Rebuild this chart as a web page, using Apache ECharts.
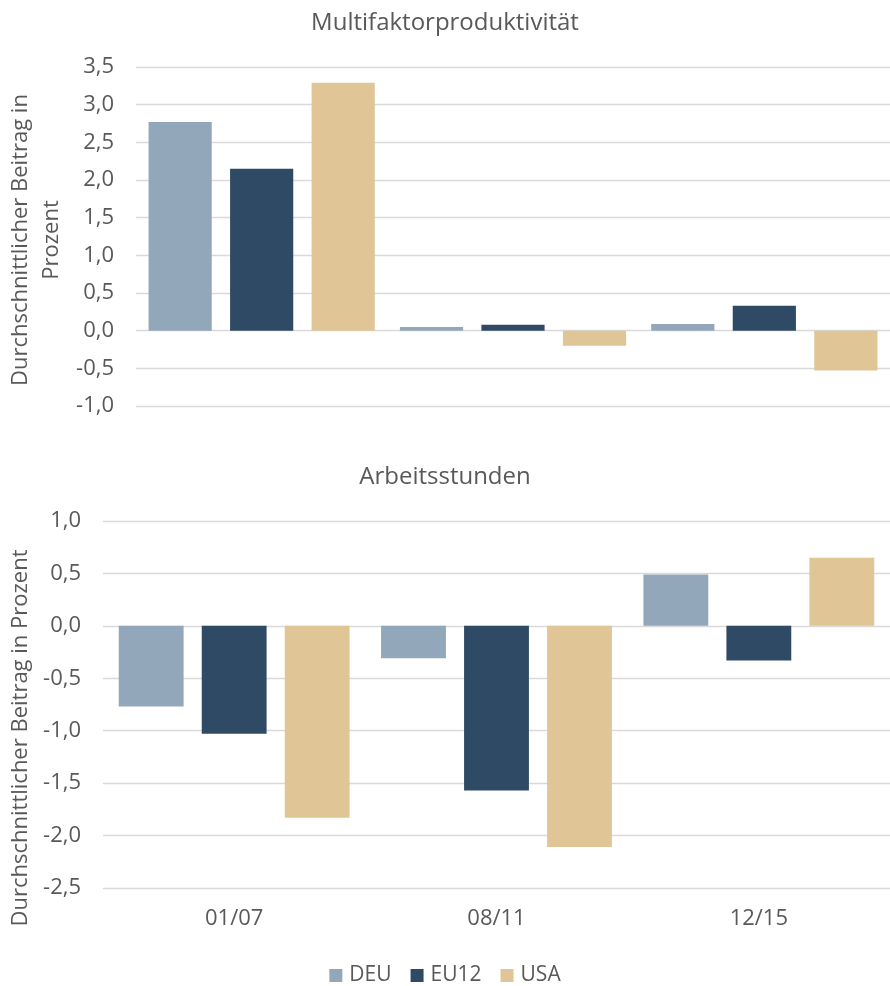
<!DOCTYPE html>
<html>
<head>
<meta charset="utf-8">
<script src="https://cdn.jsdelivr.net/npm/echarts@6/dist/echarts.min.js"></script>
<style>
  html, body { margin: 0; padding: 0; background: #ffffff; }
  #chart { width: 890px; height: 986px; }
</style>
</head>
<body>
<div id="chart"></div>
<script>
// Periods and series
const categories = ['01/07', '08/11', '12/15'];
const seriesNames = ['DEU', 'EU12', 'USA'];

// Multifaktorproduktivität (average contribution, %)
const mfpDEU  = [2.77, 0.05, 0.09];
const mfpEU12 = [2.15, 0.08, 0.33];
const mfpUSA  = [3.29, -0.20, -0.53];

// Arbeitsstunden (average contribution, %)
const hoursDEU  = [-0.77, -0.31, 0.49];
const hoursEU12 = [-1.03, -1.57, -0.33];
const hoursUSA  = [-1.83, -2.11, 0.65];

// Axis ranges
const mfpAxis = { min: -1.0, max: 3.5, interval: 0.5 };
const hoursAxis = { min: -2.5, max: 1.0, interval: 0.5 };

const colors = ['#93A7BA', '#2E4A65', '#E0C697'];
const textColor = '#595959';
const font = '"Open Sans", sans-serif';

const fmt = v => v.toFixed(1).replace('.', ',');

const chart = echarts.init(document.getElementById('chart'), null, { renderer: 'canvas' });

function yAxis(gridIndex, range, margin) {
  return {
    type: 'value', gridIndex,
    min: range.min, max: range.max, interval: range.interval,
    axisLine: { show: false }, axisTick: { show: false },
    splitLine: { lineStyle: { color: '#D9D9D9', width: 1.3 } },
    axisLabel: { color: textColor, fontSize: 22, fontFamily: font, margin, formatter: fmt }
  };
}

function bars(gridIndex, data, catGap, gap) {
  return data.map((d, i) => ({
    name: seriesNames[i], type: 'bar',
    xAxisIndex: gridIndex, yAxisIndex: gridIndex,
    data: d, barGap: gap, barCategoryGap: catGap,
    itemStyle: { color: colors[i] },
    emphasis: { disabled: true }
  }));
}

chart.setOption({
  animation: false,
  color: colors,
  title: [
    { text: 'Multifaktorproduktivität', left: 'center', top: 6,
      textStyle: { color: textColor, fontSize: 24, fontWeight: 'normal', fontFamily: font } },
    { text: 'Arbeitsstunden', left: 'center', top: 460,
      textStyle: { color: textColor, fontSize: 24, fontWeight: 'normal', fontFamily: font } }
  ],
  legend: {
    data: seriesNames, top: 960, left: 'center',
    icon: 'rect', itemWidth: 13, itemHeight: 13, itemGap: 19,
    textStyle: { color: textColor, fontSize: 21, fontFamily: font, padding: [0, 0, 0, 2] }
  },
  grid: [
    { left: 136, right: 0, top: 67, height: 339 },
    { left: 103, right: 0, top: 521, height: 367 }
  ],
  xAxis: [
    { type: 'category', gridIndex: 0, data: categories,
      axisLine: { show: false }, axisTick: { show: false }, axisLabel: { show: false } },
    { type: 'category', gridIndex: 1, data: categories,
      axisLine: { show: false }, axisTick: { show: false },
      axisLabel: { color: textColor, fontSize: 22, fontFamily: font, margin: 20 } }
  ],
  yAxis: [ yAxis(0, mfpAxis, 22), yAxis(1, hoursAxis, 22) ],
  graphic: [
    { type: 'text', x: 36, y: 240, rotation: Math.PI / 2,
      style: { text: 'Durchschnittlicher Beitrag in\nProzent', fill: textColor,
        font: '22px ' + font, align: 'center', verticalAlign: 'middle', lineHeight: 31 } },
    { type: 'text', x: 21, y: 738, rotation: Math.PI / 2,
      style: { text: 'Durchschnittlicher Beitrag in Prozent', fill: textColor,
        font: '22px ' + font, align: 'center', verticalAlign: 'middle' } }
  ],
  series: [
    ...bars(0, [mfpDEU, mfpEU12, mfpUSA], '10%', '29%'),
    ...bars(1, [hoursDEU, hoursEU12, hoursUSA], '12%', '28%')
  ]
});
</script>
</body>
</html>
